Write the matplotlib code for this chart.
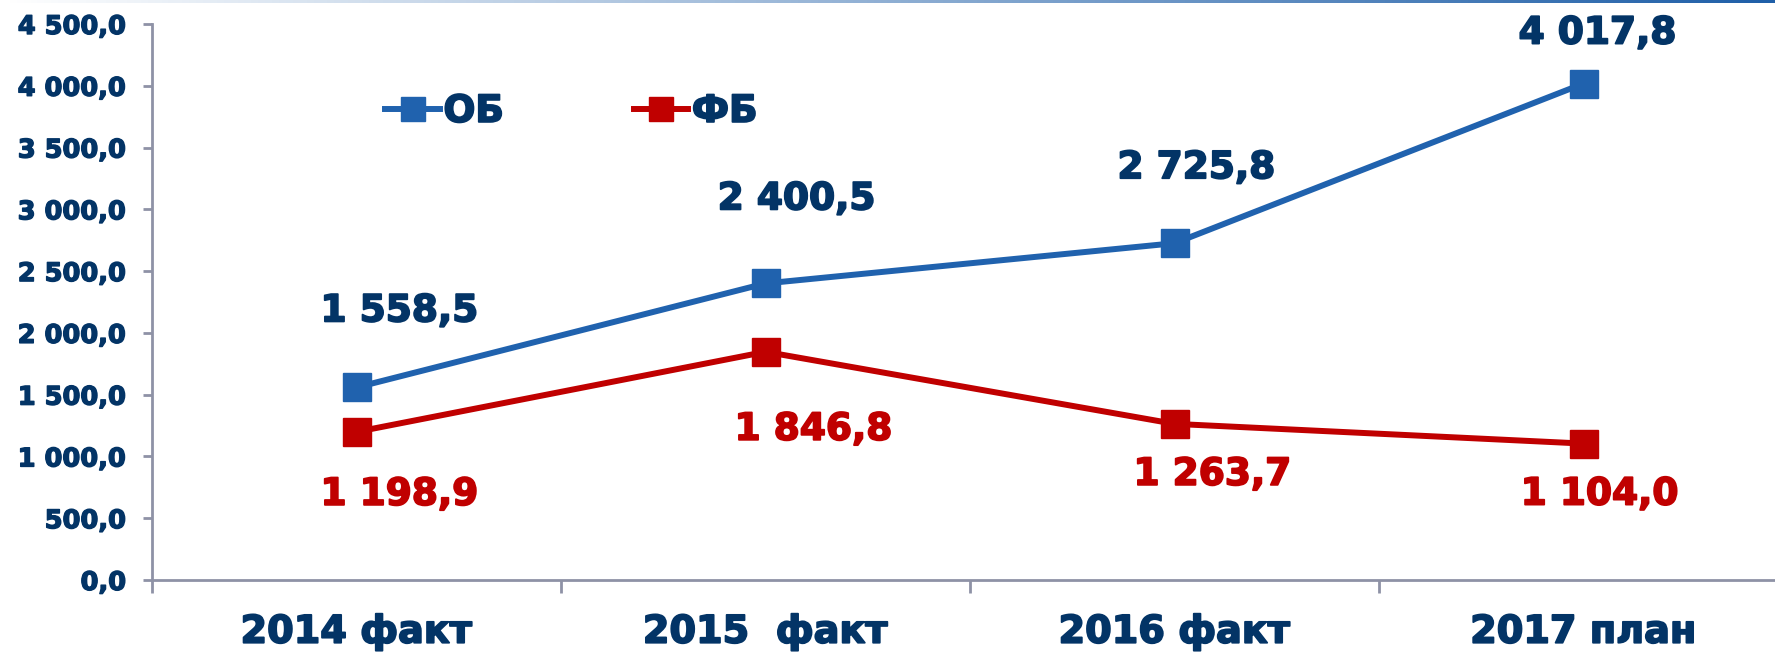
import numpy as np
import matplotlib
matplotlib.use('Agg')
from matplotlib import pyplot as plt
from matplotlib import patheffects as pe
from matplotlib.colors import LinearSegmentedColormap

categories = ['2014 факт', '2015  факт', '2016 факт', '2017 план']
ob_values = [1558.5, 2400.5, 2725.8, 4017.8]
fb_values = [1198.9, 1846.8, 1263.7, 1104.0]
yticks = np.arange(0, 4501, 500)

navy = '#033466'
blue = '#2062AE'
red = '#C00000'
axis_gray = '#8E92A6'

# label offsets in pixels (dx, dy)
ob_offsets = [(43, 76), (31, 84), (22, 75), (14, 50)]
fb_offsets = [(43, -63), (48, -78), (38, -51), (16, -51)]

def fmt(v):
    s = '{:,.1f}'.format(v)
    return s.replace(',', ' ').replace('.', ',')

def heavy(c, w=1.3):
    # fake a heavier weight, closer to Verdana Bold
    return [pe.withStroke(linewidth=w, foreground=c)]

plt.rcParams['font.family'] = ['DejaVu Sans']
plt.rcParams['font.weight'] = 'bold'

fig = plt.figure(figsize=(17.75, 6.53), dpi=100)
ax = fig.add_axes([152 / 1775, 73 / 653, 1636 / 1775, 556 / 653])

x = np.arange(len(categories))
ax.plot(x, ob_values, color=blue, linewidth=4.3, marker='s', markersize=20,
        label='ОБ', solid_joinstyle='round')
ax.plot(x, fb_values, color=red, linewidth=4.3, marker='s', markersize=20,
        label='ФБ', solid_joinstyle='round')

for i, v in enumerate(ob_values):
    ax.annotate(fmt(v), (x[i], v), xytext=ob_offsets[i], textcoords='offset pixels',
                ha='center', va='center', fontsize=27, fontweight='bold', color=navy,
                path_effects=heavy(navy))
for i, v in enumerate(fb_values):
    ax.annotate(fmt(v), (x[i], v), xytext=fb_offsets[i], textcoords='offset pixels',
                ha='center', va='center', fontsize=27, fontweight='bold', color=red,
                path_effects=heavy(red))

ax.set_xlim(-0.5, len(categories) - 0.5)
ax.set_ylim(0, 4500)
ax.set_yticks(yticks)
ax.set_yticklabels([fmt(t) for t in yticks], fontsize=18.5, fontweight='bold', color=navy)
ax.set_xticks(x)
ax.set_xticklabels(categories, fontsize=27.5, fontweight='bold', color=navy)
ax.tick_params(axis='x', length=0, pad=25)
ax.set_xticks(np.arange(len(categories) + 1) - 0.5, minor=True)
ax.tick_params(axis='x', which='minor', length=9.5, width=2, color=axis_gray, direction='out')
ax.tick_params(axis='y', length=6.5, width=2, color=axis_gray, direction='out', pad=12)
for t in ax.get_yticklabels():
    t.set_path_effects(heavy(navy, 1.0))
for t in ax.get_xticklabels():
    t.set_path_effects(heavy(navy))

for s in ['top', 'right']:
    ax.spines[s].set_visible(False)
for s in ['left', 'bottom']:
    ax.spines[s].set_color(axis_gray)
    ax.spines[s].set_linewidth(2)

leg = ax.legend(loc='upper left', bbox_to_anchor=(0.122, 0.935), ncol=2, frameon=False,
                fontsize=27, handlelength=1.45, handletextpad=0.1, columnspacing=3.46,
                markerscale=0.85)
for t in leg.get_texts():
    t.set_color(navy)
    t.set_fontweight('bold')
    t.set_path_effects(heavy(navy))

# thin gradient rule at the top edge of the slide
bar = fig.add_axes([0, 1 - 3 / 653, 1, 3 / 653])
cmap = LinearSegmentedColormap.from_list('g', ['#FFFFFF', '#1F5FA8'])
bar.imshow(np.linspace(0, 1, 256)[None, :], aspect='auto', cmap=cmap)
bar.axis('off')

plt.savefig('out.png', dpi=100)
